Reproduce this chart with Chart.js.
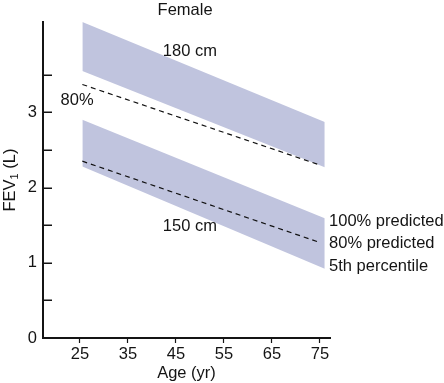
<!DOCTYPE html>
<html><head><meta charset="utf-8">
<script src="https://cdn.jsdelivr.net/npm/chart.js@4/dist/chart.umd.min.js"></script>
<style>html,body{margin:0;padding:0;background:#fff}canvas{display:block}</style>
</head><body>
<canvas id="c" width="444" height="383"></canvas>
<script>
// ---- data ----
const bandAges = [25.5, 76];
const dashAges = [25.5, 74.5];
const tall100 = [4.20, 2.87];   // 180 cm, 100% predicted
const tall5th = [3.55, 2.27];   // 180 cm, 5th percentile
const tall80  = [3.37, 2.31];   // 180 cm, 80% predicted
const short100 = [2.90, 1.59];  // 150 cm, 100% predicted
const short5th = [2.28, 0.92];  // 150 cm, 5th percentile
const short80  = [2.35, 1.28];  // 150 cm, 80% predicted
const xTicks = [25, 35, 45, 55, 65, 75];
const yTicks = [0, 0.5, 1, 1.5, 2, 2.5, 3, 3.5];
const chartTitle = 'Female';
const xTitle = 'Age (yr)';
const yTitleMain = 'FEV';
const yTitleSub = '1';
const yTitleEnd = ' (L)';

const BAND = 'rgb(192,196,222)';
const INK = '#141414';
const FONT = '"Liberation Sans", Arial, Helvetica, sans-serif';
const FS = 16.5;

const pts = (xs, ys) => xs.map((x, i) => ({x, y: ys[i]}));
const bandStyle = {borderWidth: 0, borderColor: 'rgba(0,0,0,0)', pointRadius: 0, backgroundColor: BAND, tension: 0, order: 2};
const dashStyle = {borderWidth: 1.2, borderColor: '#111', borderDash: [5, 4], pointRadius: 0, fill: false, tension: 0, order: 0};

// text annotations (data coordinates; position config, not data)
const notes = [
  {t: chartTitle, x: 46.9, y: 4.36, align: 'center'},
  {t: '180 cm', x: 47.9, y: 3.81, align: 'center'},
  {t: '80%', x: 24.4, y: 3.16, align: 'center'},
  {t: '150 cm', x: 47.9, y: 1.48, align: 'center'},
  {t: '100% predicted', x: 76.9, y: 1.55, align: 'left'},
  {t: '80% predicted', x: 76.9, y: 1.25, align: 'left'},
  {t: '5th percentile', x: 76.9, y: 0.95, align: 'left'}
];

const decor = {
  id: 'decor',
  afterDraw(chart) {
    const ctx = chart.ctx, xs = chart.scales.x, ys = chart.scales.y, ca = chart.chartArea;
    ctx.save();
    // inward y tick marks
    ctx.strokeStyle = INK; ctx.lineWidth = 1.5;
    ys.ticks.forEach(t => {
      if (t.value === 0) return;
      const py = Math.round(ys.getPixelForValue(t.value)) + 0.25;
      ctx.beginPath(); ctx.moveTo(ca.left, py); ctx.lineTo(ca.left + 9, py); ctx.stroke();
    });
    ctx.fillStyle = INK;
    ctx.font = FS + 'px ' + FONT;
    ctx.textBaseline = 'middle';
    notes.forEach(n => {
      ctx.textAlign = n.align;
      ctx.fillText(n.t, xs.getPixelForValue(n.x), ys.getPixelForValue(n.y));
    });
    // x title
    ctx.textAlign = 'center';
    ctx.fillText(xTitle, (ca.left + ca.right) / 2, 373);
    // y title with subscript
    ctx.translate(10, 180);
    ctx.rotate(-Math.PI / 2);
    ctx.font = FS + 'px ' + FONT;
    const w1 = ctx.measureText(yTitleMain).width;
    ctx.font = '11px ' + FONT;
    const w2 = ctx.measureText(yTitleSub).width;
    ctx.font = FS + 'px ' + FONT;
    const w3 = ctx.measureText(yTitleEnd).width;
    let x0 = -(w1 + w2 + w3) / 2;
    ctx.textAlign = 'left';
    ctx.fillText(yTitleMain, x0, 0);
    ctx.font = '11px ' + FONT;
    ctx.fillText(yTitleSub, x0 + w1, 5);
    ctx.font = FS + 'px ' + FONT;
    ctx.fillText(yTitleEnd, x0 + w1 + w2, 0);
    ctx.restore();
  }
};

new Chart(document.getElementById('c'), {
  type: 'line',
  data: {
    datasets: [
      Object.assign({label: '180 cm 100%', data: pts(bandAges, tall100), fill: '+1'}, bandStyle),
      Object.assign({label: '180 cm 5th', data: pts(bandAges, tall5th), fill: false}, bandStyle),
      Object.assign({label: '150 cm 100%', data: pts(bandAges, short100), fill: '+1'}, bandStyle),
      Object.assign({label: '150 cm 5th', data: pts(bandAges, short5th), fill: false}, bandStyle),
      Object.assign({label: '180 cm 80%', data: pts(dashAges, tall80)}, dashStyle),
      Object.assign({label: '150 cm 80%', data: pts(dashAges, short80)}, dashStyle)
    ]
  },
  options: {
    responsive: false,
    animation: false,
    devicePixelRatio: 1,
    layout: {padding: {top: 22, right: 114, left: 0, bottom: 0}},
    plugins: {legend: {display: false}, tooltip: {enabled: false}},
    scales: {
      x: {
        type: 'linear', min: 17.3, max: 77.1,
        afterBuildTicks: s => { s.ticks = xTicks.map(v => ({value: v})); },
        afterFit: s => { s.height = 45; },
        grid: {drawOnChartArea: false, drawTicks: true, tickLength: 5, color: INK, tickWidth: 1.2},
        border: {display: true, color: INK, width: 2},
        ticks: {color: INK, font: {size: FS, family: FONT}, padding: 2, maxRotation: 0}
      },
      y: {
        type: 'linear', min: 0, max: 4.2,
        afterBuildTicks: s => { s.ticks = yTicks.map(v => ({value: v})); },
        afterFit: s => { s.width = 43; },
        grid: {drawOnChartArea: false, drawTicks: false, display: true},
        border: {display: true, color: INK, width: 2},
        ticks: {color: INK, font: {size: FS, family: FONT}, padding: 6,
          callback: v => Number.isInteger(v) ? String(v) : ''}
      }
    }
  },
  plugins: [decor]
});
</script>
</body></html>
